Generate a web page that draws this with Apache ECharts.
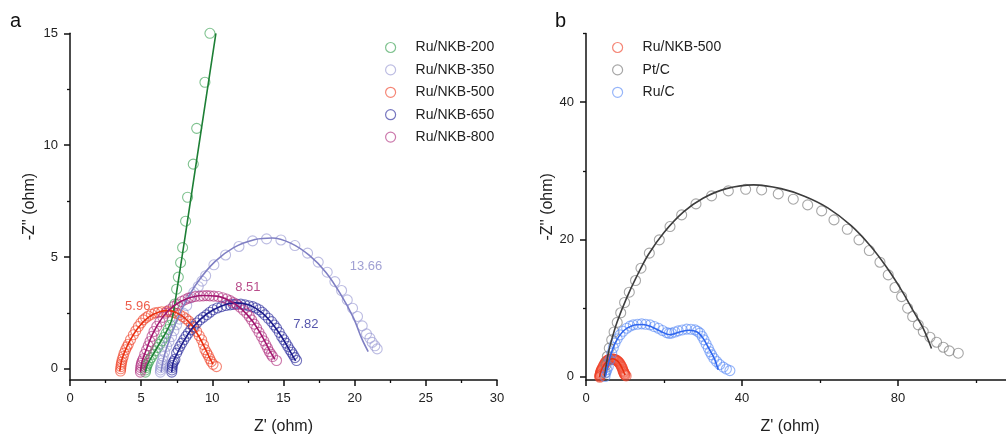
<!DOCTYPE html>
<html><head><meta charset="utf-8">
<script src="https://cdn.jsdelivr.net/npm/echarts@6/dist/echarts.min.js"></script>
<style>html,body{margin:0;padding:0;background:#fff}#c{width:1006px;height:438px}</style>
</head><body><div id="c"></div><script>
// ---------- data (ohm) ----------
const ruNkb200Points = [[5.3,-0.15],[5.32,-0.05],[5.35,0.05],[5.4,0.15],[5.48,0.25],[5.58,0.38],[5.7,0.5],[5.85,0.65],[6.0,0.8],[6.15,0.95],[6.3,1.1],[6.45,1.25],[6.6,1.4],[6.75,1.58],[6.9,1.76],[7.05,1.95],[7.2,2.2],[7.37,2.9],[7.49,3.56],[7.61,4.1],[7.77,4.75],[7.91,5.42],[8.12,6.6],[8.26,7.67],[8.66,9.15],[8.9,10.75],[9.48,12.81],[9.83,15.0]];
const ruNkb200Fit = [[5.3,-0.15],[5.45,0.2],[5.8,0.6],[6.3,1.15],[6.8,1.7],[7.15,2.2],[7.37,2.93],[8.8,8.92],[10.25,15.0]];

const ruNkb350Points = [[6.35,-0.15],[6.36,-0.05],[6.37,0.05],[6.4,0.15],[6.44,0.25],[6.5,0.4],[6.55,0.55],[6.65,0.75],[6.79,1.0],[6.95,1.22],[7.14,1.44],[7.3,1.7],[7.49,1.97],[7.7,2.22],[7.96,2.49],[8.2,2.83],[8.43,3.16],[8.7,3.42],[9.01,3.68],[9.27,3.92],[9.53,4.16],[10.11,4.65],[10.93,5.09],[11.87,5.47],[12.83,5.72],[13.81,5.81],[14.82,5.76],[15.8,5.51],[16.69,5.17],[17.44,4.77],[18.07,4.32],[18.61,3.9],[19.08,3.5],[19.48,3.08],[19.85,2.71],[20.2,2.34],[20.53,1.92],[20.83,1.56],[21.07,1.37],[21.23,1.18],[21.42,1.03],[21.58,0.89]];
const ruNkb350Fit = [[6.4,-0.15],[6.55,0.4],[6.8,0.95],[7.3,1.85],[8.0,2.85],[9.0,3.9],[10.2,4.8],[11.5,5.42],[13.0,5.78],[14.2,5.85],[15.5,5.62],[16.8,5.08],[18.0,4.3],[19.0,3.35],[19.9,2.3],[20.5,1.35],[20.95,0.77]];

const ruNkb500Points = [[3.55,-0.1],[3.56,0.0],[3.58,0.1],[3.6,0.2],[3.63,0.3],[3.67,0.42],[3.74,0.55],[3.8,0.7],[3.9,0.85],[4.0,0.98],[4.1,1.1],[4.25,1.3],[4.45,1.52],[4.62,1.7],[4.8,1.89],[4.98,2.05],[5.15,2.19],[5.32,2.28],[5.5,2.36],[5.72,2.44],[5.97,2.5],[6.2,2.53],[6.44,2.55],[6.79,2.57],[7.05,2.55],[7.26,2.52],[7.5,2.47],[7.72,2.41],[7.95,2.33],[8.15,2.24],[8.35,2.13],[8.54,2.0],[8.72,1.84],[8.9,1.67],[9.08,1.48],[9.25,1.3],[9.38,1.08],[9.48,0.86],[9.6,0.72],[9.71,0.6],[9.82,0.45],[9.92,0.32],[10.05,0.2],[10.29,0.1]];
const ruNkb500Fit = [[3.5,-0.1],[3.6,0.3],[3.8,0.7],[4.2,1.25],[4.8,1.85],[5.5,2.3],[6.3,2.55],[6.9,2.6],[7.5,2.5],[8.1,2.25],[8.6,1.9],[9.1,1.4],[9.5,0.9],[9.8,0.5],[10.05,0.2]];

const ruNkb650Points = [[7.15,-0.15],[7.16,-0.05],[7.17,0.05],[7.19,0.15],[7.22,0.25],[7.3,0.33],[7.37,0.42],[7.49,0.7],[7.6,0.85],[7.72,1.0],[7.86,1.15],[8.0,1.3],[8.15,1.45],[8.31,1.59],[8.48,1.74],[8.66,1.89],[8.9,2.05],[9.13,2.19],[9.36,2.3],[9.6,2.41],[9.83,2.53],[10.06,2.64],[10.35,2.72],[10.65,2.78],[10.95,2.83],[11.24,2.86],[11.47,2.88],[11.7,2.9],[12.0,2.89],[12.29,2.86],[12.56,2.82],[12.83,2.78],[13.06,2.72],[13.29,2.64],[13.5,2.53],[13.69,2.41],[13.93,2.26],[14.16,2.11],[14.34,1.96],[14.51,1.82],[14.7,1.63],[14.87,1.44],[15.02,1.3],[15.17,1.15],[15.31,1.0],[15.45,0.85],[15.57,0.74],[15.68,0.63],[15.8,0.5],[15.92,0.37]];
const ruNkb650Fit = [[7.15,-0.15],[7.25,0.3],[7.5,0.65],[8.0,1.25],[8.7,1.9],[9.6,2.45],[10.6,2.8],[11.6,2.95],[12.6,2.85],[13.5,2.5],[14.3,1.95],[15.0,1.3],[15.5,0.75],[15.85,0.35]];

const ruNkb800Points = [[4.95,-0.15],[4.96,-0.05],[4.97,0.05],[4.99,0.15],[5.02,0.25],[5.08,0.35],[5.15,0.45],[5.25,0.65],[5.38,0.85],[5.5,1.03],[5.62,1.22],[5.76,1.45],[5.9,1.67],[6.1,1.9],[6.32,2.11],[6.52,2.3],[6.74,2.49],[7.0,2.64],[7.26,2.78],[7.55,2.9],[7.84,3.01],[8.08,3.09],[8.31,3.16],[8.55,3.2],[8.78,3.23],[9.1,3.25],[9.36,3.26],[9.6,3.27],[9.83,3.26],[10.1,3.25],[10.42,3.23],[10.72,3.18],[11.0,3.12],[11.25,3.05],[11.47,2.96],[11.72,2.87],[11.94,2.76],[12.18,2.63],[12.41,2.49],[12.6,2.34],[12.76,2.19],[12.94,2.0],[13.11,1.82],[13.28,1.63],[13.46,1.44],[13.62,1.25],[13.76,1.07],[13.88,0.92],[14.0,0.77],[14.12,0.65],[14.23,0.55],[14.51,0.37]];
const ruNkb800Fit = [[4.95,-0.15],[5.05,0.3],[5.3,0.75],[5.8,1.55],[6.5,2.3],[7.3,2.82],[8.3,3.15],[9.3,3.28],[10.3,3.25],[11.2,3.05],[12.0,2.7],[12.8,2.15],[13.5,1.45],[14.0,0.85],[14.4,0.42]];

const ptCPoints = [[4.87,0.5],[5.13,1.7],[5.47,2.92],[5.97,4.14],[6.59,5.35],[7.2,6.5],[8.0,7.9],[8.9,9.3],[9.9,10.8],[11.1,12.3],[12.7,14.0],[14.1,15.8],[16.24,17.99],[18.8,19.93],[21.54,21.87],[24.53,23.57],[28.2,25.17],[32.2,26.34],[36.5,27.07],[40.94,27.3],[45.04,27.21],[49.3,26.63],[53.15,25.86],[56.84,25.03],[60.43,24.15],[63.59,22.84],[67.0,21.48],[70.0,19.93],[72.65,18.37],[75.38,16.67],[77.5,14.82],[79.23,12.98],[80.94,11.66],[82.47,9.97],[83.76,8.75],[85.2,7.54],[86.49,6.56],[88.2,5.74],[89.9,5.01],[91.62,4.28],[93.15,3.75],[95.46,3.41]];
const ptCFit = [[4.8,0],[5.5,2.8],[6.5,5.2],[8,8.0],[10.3,11.3],[13,14.6],[16,17.8],[20,21.0],[25,24.0],[30,26.0],[36,27.4],[43,27.95],[50,27.4],[56,26.3],[62,24.6],[68,22.0],[73,19.0],[77,16.0],[81,12.5],[84,9.5],[86.5,7],[88.6,4.1]];

const ruCPoints = [[4.87,0],[5.1,0.6],[5.35,1.0],[5.72,1.46],[6.1,2.4],[6.59,3.4],[7.0,4.2],[7.44,4.87],[8.0,5.5],[8.72,6.08],[9.5,6.6],[10.44,7.05],[11.3,7.35],[12.13,7.54],[13.2,7.62],[14.28,7.68],[15.3,7.62],[16.41,7.54],[17.5,7.3],[18.55,7.05],[19.6,6.72],[20.68,6.41],[21.3,6.3],[21.96,6.33],[22.8,6.5],[23.67,6.66],[24.7,6.8],[25.81,6.91],[26.9,6.9],[27.95,6.81],[28.6,6.6],[29.23,6.33],[29.8,5.85],[30.26,5.35],[30.8,4.75],[31.36,4.14],[31.8,3.6],[32.23,3.16],[32.8,2.65],[33.5,2.19],[34.3,1.75],[35.2,1.37],[36.0,1.1],[36.9,0.87]];
const ruCFit = [[5.0,0],[6.0,2.5],[7.5,4.9],[9.5,6.6],[12,7.45],[14.5,7.6],[17,7.2],[19.5,6.5],[21.5,6.1],[24,6.5],[26.5,6.75],[28.5,6.5],[30,5.6],[31.5,4.1],[33,2.5],[33.9,1.0]];

// annotations (charge-transfer resistance labels), left panel
const annotationTexts = ['13.66','8.51','7.82','5.96'];
const annotationX = [20.8, 12.5, 16.57, 4.76];
const annotationY = [4.56, 3.62, 1.98, 2.8];

// tick labels
const leftXTicks = [0,5,10,15,20,25,30];
const leftXMinor = [2.5,7.5,12.5,17.5,22.5,27.5];
const leftYTicks = [0,5,10,15];
const leftYMinor = [2.5,7.5,12.5];
const rightXTicks = [0,40,80];
const rightXMinor = [20,60,100];
const rightYTicks = [0,20,40];
const rightYMinor = [10,30,50];

const leftNames = ['Ru/NKB-200','Ru/NKB-350','Ru/NKB-500','Ru/NKB-650','Ru/NKB-800'];
const rightNames = ['Ru/NKB-500','Pt/C','Ru/C'];

// ---------- style ----------
const FONT = 'Liberation Sans, Arial, Helvetica, sans-serif';
const AX = '#111';
const sty = {
  'Ru/NKB-200': {mk:'rgba(55,160,80,0.8)', ln:'#1d7f35'},
  'Ru/NKB-350': {mk:'rgba(150,150,210,0.8)', ln:'#7f7fc3'},
  'Ru/NKB-500': {mk:'rgba(240,65,40,0.8)', ln:'#e8300f'},
  'Ru/NKB-650': {mk:'rgba(40,40,155,0.8)', ln:'#1b1b8a'},
  'Ru/NKB-800': {mk:'rgba(175,45,125,0.8)', ln:'#a0156e'},
  'Pt/C': {mk:'rgba(125,125,125,0.85)', ln:'#3d3d3d'},
  'Ru/C': {mk:'rgba(90,140,245,0.8)', ln:'#2f66ee'}
};
const annColors = ['#8888c8','#a8206e','#2a2a96','#e8351e'];

function mainX(gi, min, max, ticks, name, namePad) {
  return {type:'value', gridIndex:gi, min, max, position:'bottom',
    axisLine:{show:true, onZero:false, lineStyle:{color:AX, width:1.5}},
    axisTick:{show:true, customValues:ticks, length:6, lineStyle:{color:AX, width:1.5}},
    axisLabel:{show:true, customValues:ticks, margin:12, fontSize:13, color:'#222', fontFamily:FONT},
    splitLine:{show:false},
    name, nameLocation:'middle', nameGap:39,
    nameTextStyle:{fontSize:16, color:'#222', fontFamily:FONT, padding:namePad}};
}
function minorAxis(gi, min, max, ticks, pos) {
  return {type:'value', gridIndex:gi, min, max, position:pos,
    axisLine:{show:false, onZero:false},
    axisTick:{show:true, customValues:ticks, length:3, lineStyle:{color:AX, width:1.3}},
    axisLabel:{show:false}, splitLine:{show:false}};
}
function mainY(gi, min, max, ticks, name, gap) {
  return {type:'value', gridIndex:gi, min, max, position:'left',
    axisLine:{show:true, onZero:false, lineStyle:{color:AX, width:1.5}},
    axisTick:{show:true, customValues:ticks, length:6, lineStyle:{color:AX, width:1.5}},
    axisLabel:{show:true, customValues:ticks, margin:12, fontSize:13, color:'#222', fontFamily:FONT},
    splitLine:{show:false},
    name, nameLocation:'middle', nameGap:gap,
    nameTextStyle:{fontSize:16, color:'#222', fontFamily:FONT}};
}

function scatter(name, data, xi, yi) {
  return {type:'scatter', name, data, xAxisIndex:xi, yAxisIndex:yi,
    symbol:'circle', symbolSize:10,
    itemStyle:{color:'rgba(255,255,255,0)', borderColor:sty[name].mk, borderWidth:1.1},
    emphasis:{disabled:true}, silent:true, z:2};
}
function fit(name, data, xi, yi) {
  return {type:'line', name:name+' fit', data, xAxisIndex:xi, yAxisIndex:yi,
    showSymbol:false, symbol:'none', smooth:0.35,
    lineStyle:{color:sty[name].ln, width:1.6}, emphasis:{disabled:true}, silent:true, z:3};
}
function legendItems(names) {
  return names.map(n => ({name:n, icon:'circle',
    itemStyle:{color:'rgba(255,255,255,0)', borderColor:sty[n].mk, borderWidth:1.2}}));
}

const leftSets = [ruNkb200Points, ruNkb350Points, ruNkb500Points, ruNkb650Points, ruNkb800Points];
const leftFits = [ruNkb200Fit, ruNkb350Fit, ruNkb500Fit, ruNkb650Fit, ruNkb800Fit];
const rightSets = [ruNkb500Points, ptCPoints, ruCPoints];
const rightFits = [ruNkb500Fit, ptCFit, ruCFit];

const series = [];
leftNames.forEach((n,i) => { series.push(scatter(n, leftSets[i], 0, 0)); series.push(fit(n, leftFits[i], 0, 0)); });
rightNames.forEach((n,i) => { series.push(scatter(n, rightSets[i], 2, 2)); series.push(fit(n, rightFits[i], 2, 2)); });
series.push({type:'scatter', name:'annotations', xAxisIndex:0, yAxisIndex:0, symbolSize:0, silent:true, z:5,
  data: annotationTexts.map((t,i) => ({value:[annotationX[i], annotationY[i]],
    label:{show:true, position:'inside', formatter:t, color:annColors[i], fontSize:13, fontFamily:FONT}}))});

const legendText = {fontSize:14, color:'#222', fontFamily:FONT};
const option = {
  backgroundColor:'#fff',
  animation:false,
  grid:[
    {left:70, top:33.3, width:427, height:346.7, outerBoundsMode:'none', containLabel:false},
    {left:586, top:33.6, width:420, height:346.4, outerBoundsMode:'none', containLabel:false}
  ],
  xAxis:[
    mainX(0, 0, 30, leftXTicks, "Z' (ohm)", [0,0,0,0]),
    minorAxis(0, 0, 30, leftXMinor, 'bottom'),
    mainX(1, 0, 107.7, rightXTicks, "Z' (ohm)", [0,12,0,0]),
    minorAxis(1, 0, 107.7, rightXMinor, 'bottom')
  ],
  yAxis:[
    mainY(0, -0.5, 15, leftYTicks, "-Z'' (ohm)", 32),
    minorAxis(0, -0.5, 15, leftYMinor, 'left'),
    mainY(1, -0.5, 50, rightYTicks, "-Z'' (ohm)", 30),
    minorAxis(1, -0.5, 50, rightYMinor, 'left')
  ],
  legend:[
    {data:legendItems(leftNames), orient:'vertical', left:380, top:35.5, itemWidth:40, itemHeight:10, itemGap:8.4,
     textStyle:legendText, selectedMode:false},
    {data:legendItems(rightNames), orient:'vertical', left:607, top:35.5, itemWidth:40, itemHeight:10, itemGap:8.4,
     textStyle:legendText, selectedMode:false}
  ],
  graphic:[
    {type:'text', x:10, y:31, style:{text:'a', fontSize:20, fill:'#111', fontFamily:FONT, verticalAlign:'bottom'}},
    {type:'text', x:555, y:31, style:{text:'b', fontSize:20, fill:'#111', fontFamily:FONT, verticalAlign:'bottom'}}
  ],
  series
};
const chart = echarts.init(document.getElementById('c'), null, {renderer:'canvas'});
chart.setOption(option);
</script></body></html>
